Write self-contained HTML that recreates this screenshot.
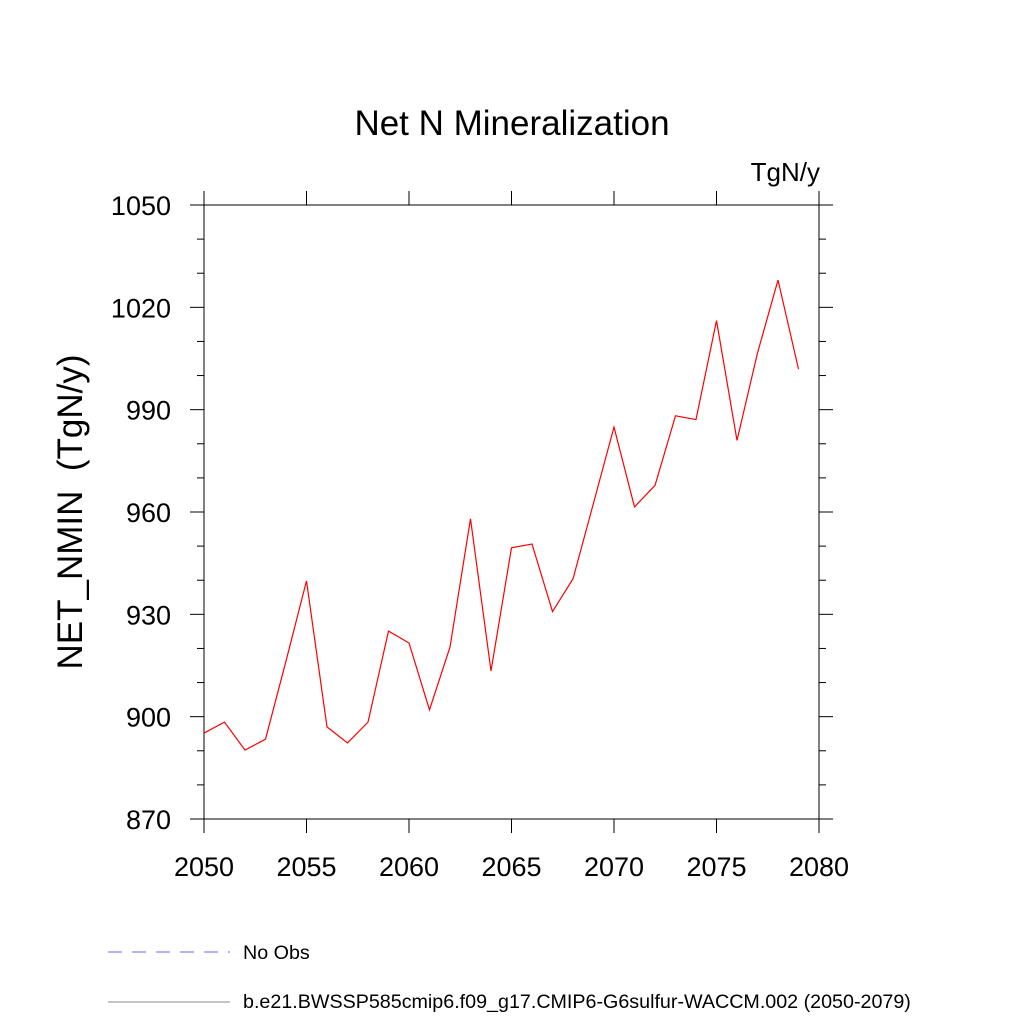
<!DOCTYPE html>
<html><head><meta charset="utf-8"><style>
body{margin:0;background:#fff}
svg text{font-family:"Liberation Sans",sans-serif}
</style></head><body>
<svg id="chart" width="1024" height="1024" xmlns="http://www.w3.org/2000/svg">
<rect width="1024" height="1024" fill="#fff"/>
<text x="512" y="135" font-size="35" text-anchor="middle">Net N Mineralization</text>
<text x="820" y="181" font-size="26" text-anchor="end">TgN/y</text>
<text transform="translate(82,512) rotate(-90)" font-size="35" text-anchor="middle" xml:space="preserve" style="white-space:pre">NET_NMIN  (TgN/y)</text>
<g id="axes"></g>
<polyline id="series" fill="none" stroke="#ff0000" stroke-width="1.2"/>
<line x1="108" y1="952" x2="230" y2="952" stroke="#6666ff" stroke-width="1" stroke-dasharray="14,10"/>
<text x="243" y="959" font-size="19.7">No Obs</text>
<line x1="108" y1="1002" x2="230" y2="1002" stroke="#888" stroke-width="1"/>
<text x="243" y="1008" font-size="19.7">b.e21.BWSSP585cmip6.f09_g17.CMIP6-G6sulfur-WACCM.002 (2050-2079)</text>
</svg>
<script>
const years=[2050,2051,2052,2053,2054,2055,2056,2057,2058,2059,2060,2061,2062,2063,2064,2065,2066,2067,2068,2069,2070,2071,2072,2073,2074,2075,2076,2077,2078,2079];
const values=[895.2,898.4,890.2,893.4,916.3,939.8,897,892.3,898.4,925.1,921.6,902,920.4,958,913.4,949.5,950.6,930.8,940.4,962.6,984.9,961.5,967.8,988.2,987.1,1016.1,981,1006.6,1028,1001.9];
const xTicks=[2050,2055,2060,2065,2070,2075,2080];
const yTicks=[870,900,930,960,990,1020,1050];
const X0=204,X1=819,Y0=205,Y1=819;
const xs=v=>X0+(v-2050)/30*(X1-X0);
const ys=v=>Y1-(v-870)/180*(Y1-Y0);
const NS="http://www.w3.org/2000/svg";
const g=document.getElementById('axes');
function ln(x1,y1,x2,y2,name){const l=document.createElementNS(NS,'line');
l.setAttribute('x1',x1);l.setAttribute('y1',y1);l.setAttribute('x2',x2);l.setAttribute('y2',y2);
l.setAttribute('stroke','#000');l.setAttribute('stroke-width','1');


g.appendChild(l);}
function tx(x,y,s,anchor,name){const t=document.createElementNS(NS,'text');
t.setAttribute('x',x);t.setAttribute('y',y);t.setAttribute('font-size','27');t.setAttribute('text-anchor',anchor);t.textContent=s;


g.appendChild(t);}
const fr=document.createElementNS(NS,'rect');
fr.setAttribute('x',X0);fr.setAttribute('y',Y0);fr.setAttribute('width',X1-X0);fr.setAttribute('height',Y1-Y0);
fr.setAttribute('fill','none');fr.setAttribute('stroke','#000');


g.appendChild(fr);
xTicks.forEach(v=>{const x=xs(v);ln(x,Y1,x,Y1+14,'x-tick');ln(x,Y0,x,Y0-14,'x-tick-top');tx(x,Y1+57,String(v),'middle','x-tick-label');});
for(let v=870;v<=1050;v+=10){const y=ys(v);const major=yTicks.includes(v);const L=major?14:7;
ln(X0,y,X0-L,y,'y-tick');ln(X1,y,X1+L,y,'y-tick-right');}
yTicks.forEach(v=>tx(X0-33,ys(v)+10,String(v),'end','y-tick-label'));
document.getElementById('series').setAttribute('points',years.map((y,i)=>xs(y)+','+ys(values[i])).join(' '));
</script>
</body></html>
